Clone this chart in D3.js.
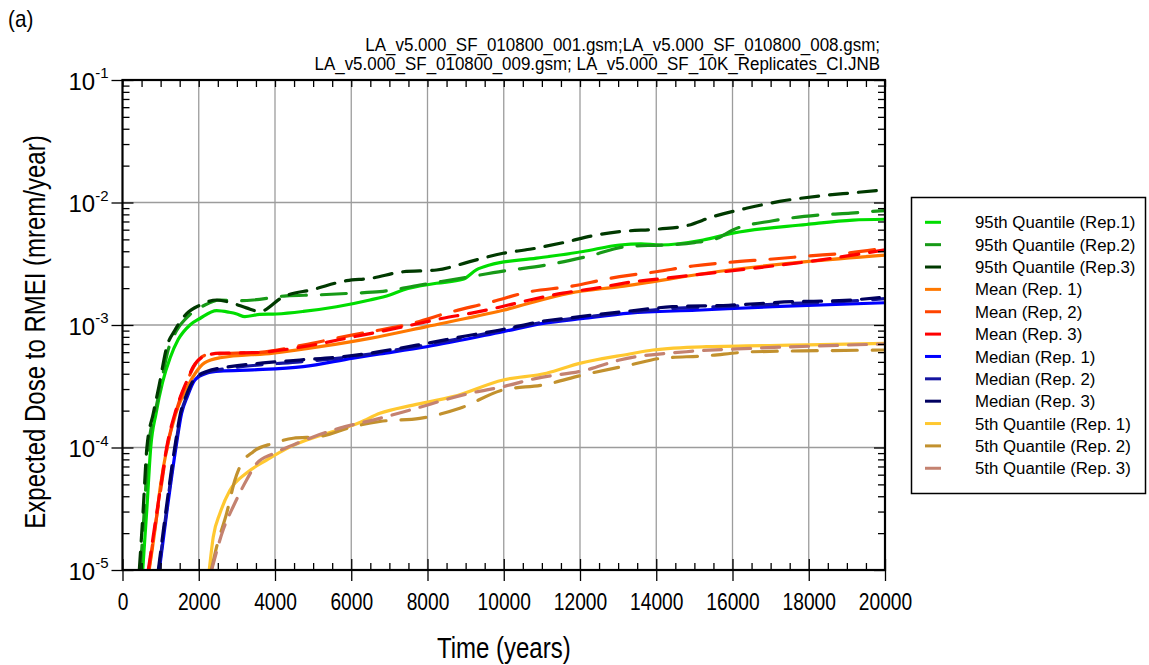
<!DOCTYPE html>
<html>
<head>
<meta charset="utf-8">
<script src="https://cdn.jsdelivr.net/npm/d3@7"></script>
<style>
  html, body { margin: 0; padding: 0; background: #ffffff; }
  svg { display: block; font-family: "Liberation Sans", Arial, sans-serif; }
</style>
</head>
<body>
<svg id="chart" width="1149" height="665"></svg>
<script>
// ---- Expected dose histories, [time (years), dose (mrem/year)] ----
const q95Rep1 = [[530,1.0e-5],[640,3.2e-5],[740,1.0e-4],[880,1.9e-4],[1050,3.4e-4],[1250,5.4e-4],[1460,7.6e-4],[1770,1.0e-3],[2030,1.13e-3],[2470,1.31e-3],[2800,1.27e-3],[3000,1.23e-3],[3210,1.17e-3],[3600,1.22e-3],[4040,1.23e-3],[4740,1.29e-3],[5615,1.41e-3],[6490,1.60e-3],[7010,1.76e-3],[7360,1.93e-3],[8236,2.19e-3],[8930,2.36e-3],[9280,2.82e-3],[9630,3.09e-3],[10860,3.51e-3],[12080,3.98e-3],[13040,4.5e-3],[13600,4.6e-3],[14090,4.5e-3],[15230,4.94e-3],[16010,5.62e-3],[17940,6.61e-3],[19160,7.19e-3],[20000,7.3e-3]];
const q95Rep2 = [[470,1.0e-5],[570,3.0e-5],[680,1.0e-4],[850,1.9e-4],[1000,3.2e-4],[1200,6.3e-4],[1420,9.0e-4],[1750,1.2e-3],[2150,1.45e-3],[2556,1.6e-3],[3000,1.58e-3],[3430,1.6e-3],[4300,1.73e-3],[5090,1.76e-3],[6050,1.82e-3],[6750,1.87e-3],[7800,2.12e-3],[9022,2.45e-3],[9982,2.75e-3],[11120,3.09e-3],[12170,3.61e-3],[13300,4.4e-3],[14200,4.5e-3],[15000,4.7e-3],[15600,5.1e-3],[16010,5.97e-3],[17060,7.1e-3],[18283,7.9e-3],[19100,8.2e-3],[20000,8.6e-3]];
const q95Rep3 = [[441,1.0e-5],[540,3.0e-5],[640,1.0e-4],[808,1.9e-4],[960,3.2e-4],[1160,6.6e-4],[1376,9.1e-4],[1683,1.24e-3],[2030,1.45e-3],[2470,1.6e-3],[2905,1.5e-3],[3250,1.38e-3],[3604,1.29e-3],[4215,1.7e-3],[5000,1.95e-3],[5877,2.3e-3],[6490,2.4e-3],[7360,2.72e-3],[8236,2.81e-3],[9109,3.29e-3],[9982,3.85e-3],[10680,4.15e-3],[11554,4.7e-3],[12430,5.43e-3],[13040,5.78e-3],[14090,6.08e-3],[14790,6.46e-3],[15486,7.66e-3],[16360,8.97e-3],[17235,1.02e-2],[18283,1.13e-2],[19155,1.2e-2],[20000,1.27e-2]];

const meanRep1 = [[700,1.0e-5],[840,2.0e-5],[1000,5.0e-5],[1170,1.0e-4],[1400,1.9e-4],[1720,3.2e-4],[1900,4.0e-4],[2150,4.9e-4],[2556,5.4e-4],[3953,5.9e-4],[5177,6.65e-4],[6490,7.78e-4],[7975,9.7e-4],[9982,1.32e-3],[11730,1.82e-3],[13040,2.06e-3],[15925,2.81e-3],[17935,3.29e-3],[20000,3.72e-3]];
const meanRep2 = [[690,1.0e-5],[820,1.9e-5],[1040,5.4e-5],[1170,1.0e-4],[1390,1.9e-4],[1710,3.56e-4],[1870,4.57e-4],[2207,5.7e-4],[2993,5.89e-4],[3604,5.97e-4],[4740,6.87e-4],[6050,8.3e-4],[6750,9.1e-4],[7536,1.02e-3],[8585,1.27e-3],[9633,1.53e-3],[10682,1.87e-3],[11730,2.06e-3],[12779,2.4e-3],[13040,2.48e-3],[14000,2.72e-3],[14963,3.03e-3],[15925,3.25e-3],[16970,3.44e-3],[18020,3.66e-3],[19070,3.89e-3],[20000,4.23e-3]];
const meanRep3 = [[677,1.0e-5],[808,1.9e-5],[1027,5.4e-5],[1158,1.0e-4],[1376,1.9e-4],[1700,3.56e-4],[1857,4.57e-4],[2118,5.5e-4],[2556,5.89e-4],[3430,5.94e-4],[4740,6.65e-4],[6050,8.0e-4],[6750,8.83e-4],[7580,1.0e-3],[8370,1.13e-3],[9153,1.25e-3],[9940,1.41e-3],[10680,1.6e-3],[11554,1.82e-3],[12430,2.0e-3],[13127,2.19e-3],[14614,2.48e-3],[16535,2.9e-3],[18283,3.39e-3],[20000,4.1e-3]];

const medianRep1 = [[966,1.0e-5],[1158,2.9e-5],[1402,1.0e-4],[1550,1.9e-4],[1700,2.6e-4],[1900,3.56e-4],[2207,4.04e-4],[2556,4.2e-4],[3430,4.3e-4],[4740,4.57e-4],[6050,5.37e-4],[6750,5.8e-4],[7975,6.65e-4],[9982,8.83e-4],[11030,1.03e-3],[12080,1.13e-3],[13300,1.25e-3],[15050,1.32e-3],[17060,1.41e-3],[20000,1.52e-3]];
const medianRep2 = [[955,1.0e-5],[1145,2.9e-5],[1385,1.0e-4],[1535,1.9e-4],[1690,2.65e-4],[1890,3.58e-4],[2207,4.1e-4],[2818,4.45e-4],[3690,4.75e-4],[4650,5.0e-4],[5760,5.4e-4],[6490,5.8e-4],[7975,6.9e-4],[9000,7.9e-4],[10000,9.1e-4],[11000,1.05e-3],[12000,1.15e-3],[13300,1.27e-3],[14420,1.36e-3],[15900,1.42e-3],[17580,1.5e-3],[18800,1.55e-3],[20000,1.64e-3]];
const medianRep3 = [[940,1.0e-5],[1130,2.9e-5],[1370,1.0e-4],[1520,1.9e-4],[1680,2.7e-4],[1880,3.6e-4],[2207,4.17e-4],[2818,4.57e-4],[3690,4.9e-4],[4650,5.18e-4],[5760,5.5e-4],[6490,5.89e-4],[7975,7.08e-4],[9000,8.13e-4],[10000,9.23e-4],[11000,1.07e-3],[12000,1.17e-3],[13300,1.3e-3],[14420,1.41e-3],[15900,1.45e-3],[17580,1.55e-3],[18800,1.58e-3],[20000,1.69e-3]];

const q05Rep1 = [[2276,1.0e-5],[2380,1.86e-5],[2556,2.9e-5],[2818,4.47e-5],[3255,6.2e-5],[3780,7.9e-5],[4304,9.8e-5],[4828,1.15e-4],[5527,1.35e-4],[6225,1.6e-4],[6750,1.9e-4],[7623,2.22e-4],[8670,2.6e-4],[9982,3.56e-4],[11120,4.04e-4],[11990,4.86e-4],[13300,5.8e-4],[13913,6.25e-4],[15313,6.65e-4],[17935,6.87e-4],[20000,7.08e-4]];
const q05Rep2 = [[2330,1.0e-5],[2470,1.55e-5],[2731,2.9e-5],[2949,5.43e-5],[3080,6.97e-5],[3430,9.25e-5],[3953,1.08e-4],[4477,1.19e-4],[5177,1.23e-4],[6050,1.48e-4],[6750,1.63e-4],[7800,1.73e-4],[8847,2.09e-4],[9982,2.95e-4],[11030,3.24e-4],[12080,3.91e-4],[13300,4.71e-4],[14176,5.37e-4],[15225,5.58e-4],[16535,6.05e-4],[18283,6.17e-4],[20000,6.25e-4]];
const q05Rep3 = [[2338,1.0e-5],[2643,2.14e-5],[2905,3.3e-5],[3255,5.43e-5],[3517,7.4e-5],[3953,8.9e-5],[4477,1.05e-4],[5000,1.22e-4],[5700,1.44e-4],[6750,1.73e-4],[7536,2.02e-4],[9109,2.77e-4],[9982,3.14e-4],[10857,3.67e-4],[12170,4.3e-4],[13040,5.18e-4],[14790,6.05e-4],[16535,6.46e-4],[18283,6.75e-4],[20000,7.0e-4]];

const seriesLabels = [
  "95th Quantile (Rep.1)", "95th Quantile (Rep.2)", "95th Quantile (Rep.3)",
  "Mean (Rep. 1)", "Mean (Rep, 2)", "Mean (Rep. 3)",
  "Median (Rep. 1)", "Median (Rep. 2)", "Median (Rep. 3)",
  "5th Quantile (Rep. 1)", "5th Quantile (Rep. 2)", "5th Quantile (Rep. 3)"
];
const seriesData = [q95Rep1, q95Rep2, q95Rep3, meanRep1, meanRep2, meanRep3,
                    medianRep1, medianRep2, medianRep3, q05Rep1, q05Rep2, q05Rep3];

const xTickValues = [0, 2000, 4000, 6000, 8000, 10000, 12000, 14000, 16000, 18000, 20000];
const yTickValues = [1e-1, 1e-2, 1e-3, 1e-4, 1e-5];
const sourceFiles = [
  "LA_v5.000_SF_010800_001.gsm;LA_v5.000_SF_010800_008.gsm;",
  "LA_v5.000_SF_010800_009.gsm; LA_v5.000_SF_10K_Replicates_CI.JNB"
];

// ---- Line styles (colour, dash pattern) per series ----
const lineColors = ["#00dd00", "#179a17", "#003a00",
                    "#ff7800", "#ff4400", "#ff0000",
                    "#0000ff", "#1414a0", "#000060",
                    "#ffc830", "#c2912e", "#c48270"];
const DASH_LONG = "25,15", DASH_SHORT = "18,11";
const lineDashes = [null, DASH_LONG, DASH_SHORT, null, DASH_LONG, DASH_SHORT,
                    null, DASH_LONG, DASH_SHORT, null, DASH_LONG, DASH_SHORT];

// ---- Layout ----
const svg = d3.select("#chart");
const P = { left: 122.5, right: 885, top: 80, bottom: 570 };
const NARROW = 0.8;

const x = d3.scaleLinear().domain([0, 20000]).range([P.left, P.right]);
const y = d3.scaleLog().domain([1e-5, 1e-1]).range([P.bottom, P.top]);

svg.append("defs").append("clipPath").attr("id", "plotClip")
  .append("rect").attr("x", P.left).attr("y", P.top)
  .attr("width", P.right - P.left).attr("height", P.bottom - P.top);

// ---- Grid ----
const grid = svg.append("g").attr("stroke", "#9c9c9c").attr("stroke-width", 1.3);
grid.selectAll("line.gx").data(xTickValues.slice(1, -1)).join("line")
  .attr("x1", d => x(d)).attr("x2", d => x(d)).attr("y1", P.top).attr("y2", P.bottom);
grid.selectAll("line.gy").data(yTickValues.slice(1, -1)).join("line")
  .attr("x1", P.left).attr("x2", P.right).attr("y1", d => y(d)).attr("y2", d => y(d));

// ---- Series ----
const line = d3.line().x(d => x(d[0])).y(d => y(d[1])).curve(d3.curveMonotoneX);
const lines = svg.append("g").attr("clip-path", "url(#plotClip)");
seriesData.forEach((data, i) => {
  lines.append("path").datum(data)
    .attr("d", line)
    .attr("fill", "none")
    .attr("stroke", lineColors[i])
    .attr("stroke-width", 3.2)
    .attr("stroke-linejoin", "round")
    .attr("stroke-linecap", lineDashes[i] ? "round" : "butt")
    .attr("stroke-dasharray", lineDashes[i]);
});

// ---- Axes: ticks ----
const minorX = d3.range(0, 20001, 500).filter(v => v % 2000 !== 0);
const minorY = [];
for (let e = -5; e < -1; e++) for (let m = 2; m <= 9; m++) minorY.push(m * Math.pow(10, e));

function tickAxis(axis, transform) {
  const g = svg.append("g").attr("transform", transform).call(axis);
  g.select(".domain").remove();
  g.selectAll("line").attr("stroke", "#000").attr("stroke-width", 1.3);
  return g;
}
// bottom
const xAxisG = tickAxis(d3.axisBottom(x).tickValues(xTickValues).tickSize(11).tickPadding(12)
  .tickFormat(d3.format("d")), `translate(0,${P.bottom})`);
xAxisG.selectAll("text")
  .attr("font-size", 24).attr("fill", "#000")
  .attr("font-family", "'Liberation Sans', Arial, sans-serif")
  .attr("transform", `scale(${NARROW},1)`);
tickAxis(d3.axisBottom(x).tickValues(xTickValues).tickSize(-11).tickFormat(""), `translate(0,${P.bottom})`);
tickAxis(d3.axisBottom(x).tickValues(minorX).tickSize(-7).tickFormat(""), `translate(0,${P.bottom})`);
// top
tickAxis(d3.axisTop(x).tickValues(xTickValues.concat(minorX)).tickSize(-7).tickFormat(""), `translate(0,${P.top})`);
// left
const yAxisG = tickAxis(d3.axisLeft(y).tickValues(yTickValues).tickSize(11).tickPadding(3)
  .tickFormat(""), `translate(${P.left},0)`);
yAxisG.selectAll(".tick").append("text")
  .attr("x", -14).attr("dy", "0.38em")
  .attr("text-anchor", "end").attr("fill", "#000")
  .attr("font-size", 24)
  .each(function (d) {
    const t = d3.select(this);
    t.append("tspan").text("10");
    t.append("tspan").attr("font-size", 15).attr("dy", "-0.75em")
      .text(String(Math.round(Math.log10(d))));
  });
tickAxis(d3.axisLeft(y).tickValues(yTickValues).tickSize(-11).tickFormat(""), `translate(${P.left},0)`);
tickAxis(d3.axisLeft(y).tickValues(minorY).tickSize(-7).tickFormat(""), `translate(${P.left},0)`);
// right
tickAxis(d3.axisRight(y).tickValues(yTickValues).tickSize(-11).tickFormat(""), `translate(${P.right},0)`);
tickAxis(d3.axisRight(y).tickValues(minorY).tickSize(-7).tickFormat(""), `translate(${P.right},0)`);

// ---- Frame ----
svg.append("rect")
  .attr("x", P.left).attr("y", P.top)
  .attr("width", P.right - P.left).attr("height", P.bottom - P.top)
  .attr("fill", "none").attr("stroke", "#000").attr("stroke-width", 2.2);

// ---- Titles ----
function narrowText(tx, ty, str, size, anchor, rotate, sx) {
  return svg.append("text")
    .attr("transform", `translate(${tx},${ty})${rotate ? ` rotate(${rotate})` : ""} scale(${sx || NARROW},1)`)
    .attr("text-anchor", anchor).attr("font-size", size).attr("fill", "#000")
    .text(str);
}
narrowText((P.left + P.right) / 2, 658, "Time (years)", 30, "middle");
narrowText(45, 332, "Expected Dose to RMEI (mrem/year)", 30, "middle", -90);
narrowText(8, 27, "(a)", 23, "start", 0, 0.9);
sourceFiles.forEach((s, i) => {
  narrowText(880, 51 + i * 19, s, 17.5, "end", 0, 0.97);
});

// ---- Legend ----
const legend = svg.append("g");
legend.append("rect")
  .attr("x", 911.5).attr("y", 197.5).attr("width", 234).attr("height", 296)
  .attr("fill", "#fff").attr("stroke", "#000").attr("stroke-width", 1.5);
seriesLabels.forEach((label, i) => {
  const ry = 222.3 + i * 22.36;
  legend.append("line")
    .attr("x1", 925).attr("x2", 941).attr("y1", ry).attr("y2", ry)
    .attr("stroke", lineColors[i]).attr("stroke-width", 3);
  legend.append("text")
    .attr("x", 975).attr("y", ry).attr("dy", "0.36em")
    .attr("font-size", 16.8).attr("fill", "#000")
    .text(label);
});
</script>
</body>
</html>
